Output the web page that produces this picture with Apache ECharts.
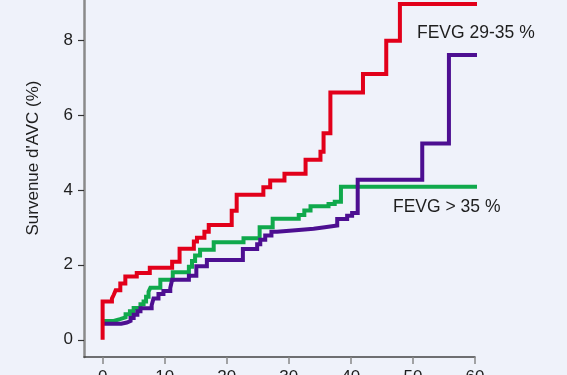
<!DOCTYPE html>
<html>
<head>
<meta charset="utf-8">
<script src="https://cdn.jsdelivr.net/npm/echarts@6/dist/echarts.min.js"></script>
<style>
  html, body { margin: 0; padding: 0; background: #eff2fa; }
  #chart { width: 567px; height: 375px; }
</style>
</head>
<body>
<div id="chart"></div>
<script>
// Survenue d'AVC (%) selon la FEVG - courbes de Kaplan-Meier
const xTicks = [0, 10, 20, 30, 40, 50, 60];
const yTicks = [0, 2, 4, 6, 8];
const seriesNames = ["FEVG > 35 % (vert)", "FEVG (violet)", "FEVG 29-35 %"];

// [mois, %]
const greenData = [
  [0, 0.5], [1.8, 0.55], [2.8, 0.6], [3.7, 0.68], [4.4, 0.76], [5.0, 0.85],
  [6.1, 0.95], [6.6, 1.02], [7.0, 1.15], [7.4, 1.28], [7.7, 1.39], [9.3, 1.6],
  [11.3, 1.8], [13.9, 1.95], [14.4, 2.1], [14.9, 2.25], [15.7, 2.4], [17.9, 2.6],
  [22.7, 2.71], [25.3, 3.0], [27.4, 3.23], [31.6, 3.33], [32.5, 3.45], [33.5, 3.56],
  [36.4, 3.62], [37.4, 3.68], [38.4, 4.08], [60.6, 4.08]
];
const purpleData = [
  [0, 0.43], [3.0, 0.46], [3.9, 0.5], [4.5, 0.58], [5.0, 0.67], [5.6, 0.76],
  [6.1, 0.84], [7.9, 0.92], [8.2, 1.1], [9.0, 1.22], [9.8, 1.3], [10.9, 1.38],
  [11.2, 1.6], [13.9, 1.71], [15.1, 1.96], [16.8, 2.13], [22.6, 2.42], [24.9, 2.55],
  [25.4, 2.67], [26.2, 2.78], [27.2, 2.88], [28.1, 2.93], [31.6, 2.96], [34.0, 3.0],
  [35.8, 3.05], [37.8, 3.22], [39.4, 3.31], [40.2, 3.38], [41.1, 4.27], [51.5, 5.24],
  [55.8, 7.6], [60.9, 7.6]
];
const redData = [
  [0, 0], [0, 1.02], [1.5, 1.1], [1.8, 1.2], [2.1, 1.32], [2.85, 1.5], [3.66, 1.69],
  [5.5, 1.78], [7.6, 1.92], [11.2, 2.08], [12.4, 2.43], [14.7, 2.62], [15.2, 2.72],
  [16.4, 2.88], [17.1, 3.06], [20.8, 3.44], [21.6, 3.87], [25.9, 4.07], [27.0, 4.25],
  [29.3, 4.43], [32.7, 4.8], [35.1, 5.02], [35.6, 5.51], [36.7, 6.6], [41.95, 7.09],
  [45.7, 7.98], [47.9, 8.96], [61.1, 8.96]
];
const colors = ["#10a94c", "#4d0f91", "#e2001a"];

const chart = echarts.init(document.getElementById("chart"));

function stepSeries(name, data, color, z) {
  return {
    name: name,
    type: "line",
    step: "end",
    data: data,
    symbol: "none",
    clip: false,
    z: z,
    lineStyle: { color: color, width: 4, join: "miter" },
    animation: false,
  };
}

const option = {
  backgroundColor: "#eff2fa",
  textStyle: { fontFamily: "Liberation Sans, Arial, sans-serif" },
  grid: { left: 84, right: 92, top: -41, bottom: 18, outerBoundsMode: "none", containLabel: false },
  xAxis: {
    type: "value",
    min: -3,
    max: 60,
    splitLine: { show: false },
    axisLine: { show: true, onZero: false, lineStyle: { color: "#444", width: 1.5 } },
    axisTick: { show: true, length: 7, customValues: xTicks, lineStyle: { color: "#888", width: 1.5 } },
    axisLabel: { customValues: xTicks, margin: 12, fontSize: 17, color: "#1e1e1e" },
  },
  yAxis: {
    type: "value",
    min: -0.46,
    max: 10.16,
    name: "Survenue d'AVC (%)",
    nameLocation: "middle",
    nameGap: 42,
    nameTextStyle: { fontSize: 17, color: "#1e1e1e" },
    splitLine: { show: false },
    axisLine: { show: true, onZero: false, lineStyle: { color: "#8a8a8a", width: 2.5 } },
    axisTick: { show: true, length: 6, customValues: yTicks, lineStyle: { color: "#333", width: 1.2 } },
    axisLabel: { customValues: yTicks, margin: 11, fontSize: 17, color: "#1e1e1e" },
  },
  graphic: [
    {
      type: "text", left: 417, top: 24,
      style: { text: "FEVG 29-35 %", fontSize: 17.5, fill: "#1e1e1e", fontFamily: "Liberation Sans, Arial, sans-serif" },
    },
    {
      type: "text", left: 393, top: 198,
      style: { text: "FEVG > 35 %", fontSize: 17.5, fill: "#1e1e1e", fontFamily: "Liberation Sans, Arial, sans-serif" },
    },
  ],
  series: [
    stepSeries(seriesNames[0], greenData, colors[0], 2),
    stepSeries(seriesNames[1], purpleData, colors[1], 3),
    stepSeries(seriesNames[2], redData, colors[2], 4),
  ],
};

chart.setOption(option);
</script>
</body>
</html>
